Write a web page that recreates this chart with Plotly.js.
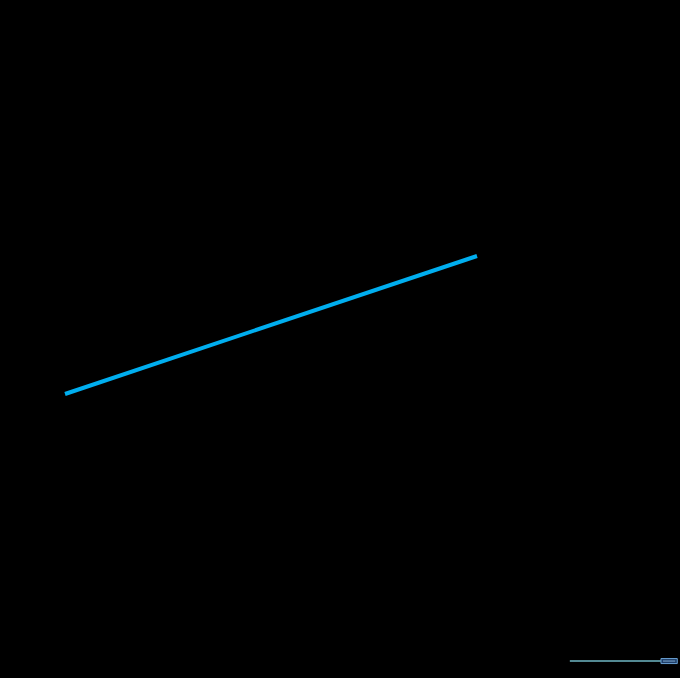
<!DOCTYPE html>
<html>
<head>
<meta charset="utf-8">
<script src="https://cdn.plot.ly/plotly-3.0.1.min.js"></script>
<style>
  html, body { margin: 0; padding: 0; background: #000; }
  #chart { width: 680px; height: 678px; }
</style>
</head>
<body>
<div id="chart"></div>
<script>
var xValues = [0, 1, 2, 3, 4, 5, 6, 7, 8];
var yValues = [2.0, 2.25, 2.5, 2.75, 3.0, 3.25, 3.5, 3.75, 4.0];

// little scroller at the bottom right, in paper units
var railStart = 0.838;
var railEnd = 0.972;
var railY = 0.025;
var gripEnd = 0.996;
var gripHalf = 0.0037;

var trace = {
  x: xValues,
  y: yValues,
  type: 'scatter',
  mode: 'lines',
  line: { color: '#00AEEF', width: 4 },
  hoverinfo: 'skip'
};

var layout = {
  width: 680,
  height: 678,
  margin: { l: 0, r: 0, t: 0, b: 0, pad: 0 },
  paper_bgcolor: '#000',
  plot_bgcolor: '#000',
  font: { family: 'Open Sans, sans-serif', color: '#000', size: 12 },
  showlegend: false,
  xaxis: {
    range: [-1.262, 11.942],
    showgrid: false,
    zeroline: false,
    showline: false,
    showticklabels: false,
    ticks: ''
  },
  yaxis: {
    range: [-2.116, 7.71],
    showgrid: false,
    zeroline: false,
    showline: false,
    showticklabels: false,
    ticks: ''
  },
  shapes: [
    {
      type: 'line', xref: 'paper', yref: 'paper',
      x0: railStart, x1: railEnd, y0: railY, y1: railY,
      line: { color: '#6FB7C4', width: 1.5 }
    },
    {
      type: 'rect', xref: 'paper', yref: 'paper',
      x0: railEnd, x1: gripEnd, y0: railY - gripHalf, y1: railY + gripHalf,
      fillcolor: '#1F3F6A',
      line: { color: '#6A9FD0', width: 1 }
    },
    {
      type: 'line', xref: 'paper', yref: 'paper',
      x0: railEnd + 0.003, x1: gripEnd - 0.003, y0: railY, y1: railY,
      line: { color: '#7FA8CC', width: 1 }
    }
  ]
};

Plotly.newPlot('chart', [trace], layout, { displayModeBar: false });
</script>
</body>
</html>
